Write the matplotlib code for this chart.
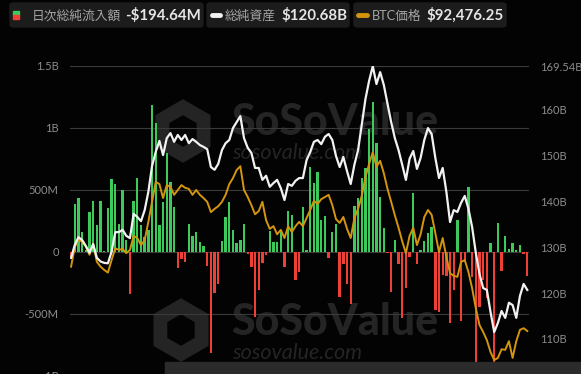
import numpy as np
import matplotlib
matplotlib.use("Agg")
import matplotlib.pyplot as plt
from matplotlib.patches import FancyBboxPatch, Rectangle, RegularPolygon

# daily net inflow, million USD
inflow = [
    -40, 387, 435, 164, 20, 320, 411, 215, 408, 10,
    352, 588, 548, 226, 500, 97, -340, 410, 600, 215,
    120, 180, 1185, 1040, 218, 400, 800, 566, 366, -130,
    -55, -80, 226, 129, 161, 80, 48, -110, -815, -330,
    -260, 89, 285, 405, 177, 70, 94, 226, -15, -118,
    -522, -306, -91, -24, 166, 83, 78, 177, -123, 330,
    295, -225, -164, 364, 15, 683, 553, 642, 258, 293,
    -51, 158, 222, -365, -99, -258, -421, 374, 432, 600,
    677, 988, 1212, 876, 445, 190, -5, -325, 97, -97,
    -535, -293, -40, 478, -97, 15, 89, 150, 204, -468,
    -482, -185, -190, -575, -306, 258, -556, -80, 527, -200,
    -950, -443, -225, -373, 70, -1000, 236, -150, 129, 25,
    70, 20, 56, -15, -194.64,
]

# total net assets, billion USD
assets = [
    127.7, 130.5, 132.2, 131.6, 130.3, 128.8, 130.7, 127.7, 126.9, 126.6,
    126.5, 129.0, 133.3, 133.3, 133.8, 132.5, 132.0, 137.3, 136.6, 135.7,
    138.1, 142.1, 147.7, 150.8, 153.2, 150.1, 153.8, 154.9, 153.0, 154.5,
    153.4, 154.5, 152.7, 153.6, 153.0, 152.3, 151.9, 151.4, 147.5, 146.9,
    148.2, 151.2, 152.7, 153.4, 156.0, 157.3, 158.6, 153.8, 151.7, 150.6,
    147.3, 147.3, 144.7, 145.6, 143.2, 144.0, 144.7, 142.9, 140.3, 143.8,
    143.4, 144.5, 145.1, 145.1, 149.0, 150.8, 153.0, 153.4, 152.5, 154.1,
    154.7, 153.4, 149.9, 147.5, 149.7, 146.6, 143.8, 148.0, 151.2, 156.7,
    162.3, 166.3, 169.5, 165.6, 168.2, 165.4, 161.3, 157.3, 153.8, 151.2,
    148.0, 144.7, 149.3, 151.0, 147.1, 149.5, 153.4, 156.0, 154.7, 149.5,
    145.1, 147.3, 142.1, 135.5, 138.1, 137.7, 139.7, 141.2, 138.4, 134.4,
    128.8, 124.2, 121.1, 120.7, 115.9, 111.5, 113.5, 116.1, 114.6, 117.9,
    117.4, 114.6, 119.4, 122.0, 120.68,
]

# BTC price, thousand USD
btc = [
    104.4, 108.0, 109.4, 109.0, 108.1, 106.6, 108.7, 105.3, 104.4, 103.8,
    103.3, 105.6, 107.8, 107.5, 107.7, 106.9, 107.5, 110.1, 109.7, 108.4,
    109.3, 112.7, 116.4, 120.1, 119.7, 117.1, 119.5, 119.2, 117.7, 118.6,
    119.5, 119.0, 118.8, 117.7, 118.6, 117.7, 117.1, 116.4, 114.5, 115.1,
    115.6, 116.4, 117.7, 119.7, 120.8, 122.3, 123.0, 118.6, 117.3, 115.8,
    114.1, 114.7, 116.4, 113.0, 111.4, 111.9, 110.4, 111.2, 109.7, 111.9,
    110.8, 111.9, 112.7, 111.9, 113.4, 114.9, 116.6, 116.0, 116.9, 117.3,
    117.7, 115.8, 113.2, 112.5, 113.6, 111.4, 109.7, 113.4, 115.1, 117.5,
    121.0, 123.4, 125.6, 122.9, 124.0, 121.7, 118.8, 116.4, 113.9, 111.6,
    109.1, 106.9, 110.1, 111.6, 108.4, 110.4, 113.6, 114.9, 114.0, 110.6,
    107.1, 109.7, 106.2, 103.2, 102.7, 102.5, 105.3, 105.6, 103.4, 100.4,
    96.7, 93.6, 92.3, 90.8, 88.6, 87.1, 87.5, 89.1, 89.0, 90.6,
    87.5, 90.6, 92.7, 93.0, 92.48,
]

left_ticks = [-1000, -500, 0, 500, 1000, 1500]
left_labels = ["-1B", "-500M", "0", "500M", "1B", "1.5B"]
right_ticks = [110, 120, 130, 140, 150, 160, 169.54]
right_labels = ["110B", "120B", "130B", "140B", "150B", "160B", "169.54B"]

legend_names = ["日次総純流入額", "総純資産", "BTC価格"]
legend_values = ["-$194.64M", "$120.68B", "$92,476.25"]

GREEN = "#3ccb5a"
RED = "#ee4036"
WHITE = "#f2f2f2"
ORANGE = "#d4950e"
BG = "#030303"
FONT = ["Lato", "Noto Sans CJK JP", "DejaVu Sans"]

W, H = 581, 374
fig = plt.figure(figsize=(W / 100, H / 100), dpi=100, facecolor=BG)


def fx(px):
    return px / W


def fy(py):
    return 1 - py / H


ax = fig.add_axes([fx(69.8), fy(376), fx(528.6) - fx(69.8), fy(66) - fy(376)])
ax.set_facecolor("none")
x = np.arange(len(inflow))
vals = np.array(inflow)
cols = [GREEN if v >= 0 else RED for v in vals]
ax.bar(x, vals, width=0.64, color=cols, zorder=2)
ax.set_xlim(-0.35, len(inflow) - 0.65)
ax.set_ylim(-1000, 1500)
ax.set_yticks(left_ticks)
ax.set_yticklabels(left_labels)
ax.grid(axis="y", color="#3a3a3a", lw=0.8, zorder=0)
ax.set_xticks([])

ax2 = ax.twinx()
ax2.set_ylim(101.92, 169.54)
ax2.set_yticks(right_ticks)
ax2.set_yticklabels(right_labels)

ax3 = ax.twinx()
ax3.set_ylim(84.15, 141.56)
ax3.set_yticks([])
ax3.plot(x, btc, color=ORANGE, lw=1.4, zorder=3)
ax2.plot(x, assets, color=WHITE, lw=1.6, zorder=4)
ax3.set_zorder(ax.get_zorder() + 1)
ax2.set_zorder(ax.get_zorder() + 2)
for a in (ax, ax2, ax3):
    a.patch.set_visible(False)
    for s in a.spines.values():
        s.set_visible(False)
    a.tick_params(length=0, colors="#8c8c8c", labelsize=8)
    for t in a.get_yticklabels():
        t.set_family(FONT)
ax.tick_params(axis="y", pad=8)
ax2.tick_params(axis="y", pad=8)

# watermarks
WM = "#242424"
for cx, cy, ty in [(183, 131, 122), (181, 330, 322)]:
    fig.add_artist(RegularPolygon((cx / 100, (H - cy) / 100), 6, radius=0.31,
                                  transform=fig.dpi_scale_trans, color=WM, zorder=-2))
    fig.add_artist(RegularPolygon((cx / 100, (H - cy) / 100), 6, radius=0.15,
                                  transform=fig.dpi_scale_trans, color=BG, zorder=-1))
    fig.text(fx(231), fy(ty), "SoSoValue", color=WM, fontsize=31, fontweight="black",
             family=FONT, va="center", ha="left", zorder=-1)
    fig.text(fx(232), fy(ty + 31), "sosovalue.com", color=WM, fontsize=15.5, style="italic",
             family=FONT, va="center", ha="left", zorder=-1)

# bottom gray strip
fig.add_artist(Rectangle((fx(165), 0), 1 - fx(165), 12 / H, transform=fig.transFigure,
                         color="#2b2b2b", zorder=10))

# legend boxes
boxes = [(10, 203), (207, 349), (354, 506)]
name_x = [32, 225, 372]
val_x = [125, 281, 426]
for i, (x0, x1) in enumerate(boxes):
    fig.add_artist(FancyBboxPatch((fx(x0), fy(27)), fx(x1) - fx(x0), fy(3) - fy(27),
                                  boxstyle="round,pad=0,rounding_size=0.006",
                                  transform=fig.transFigure, color="#1c1c1c", zorder=5))
    fig.text(fx(name_x[i]), fy(15.5), legend_names[i], color="#a5a5a5", fontsize=9.2,
             family=FONT, va="center", ha="left", zorder=6)
    fig.text(fx(val_x[i]), fy(15), legend_values[i], color="#e6e6e6", fontsize=10.8,
             fontweight="bold", family=FONT, va="center", ha="left", zorder=6)

fig.add_artist(Rectangle((fx(13), fy(15)), fx(6), 4 / H, transform=fig.transFigure,
                         color=GREEN, zorder=6))
fig.add_artist(Rectangle((fx(13), fy(19)), fx(6), 4 / H, transform=fig.transFigure,
                         color=RED, zorder=6))
fig.add_artist(plt.Line2D([fx(212), fx(220)], [fy(15), fy(15)], color=WHITE, lw=3.5,
                          solid_capstyle="round", transform=fig.transFigure, zorder=6))
fig.add_artist(plt.Line2D([fx(358), fx(367)], [fy(15), fy(15)], color=ORANGE, lw=3.5,
                          solid_capstyle="round", transform=fig.transFigure, zorder=6))

fig.savefig("out.png", dpi=100, facecolor=BG)
